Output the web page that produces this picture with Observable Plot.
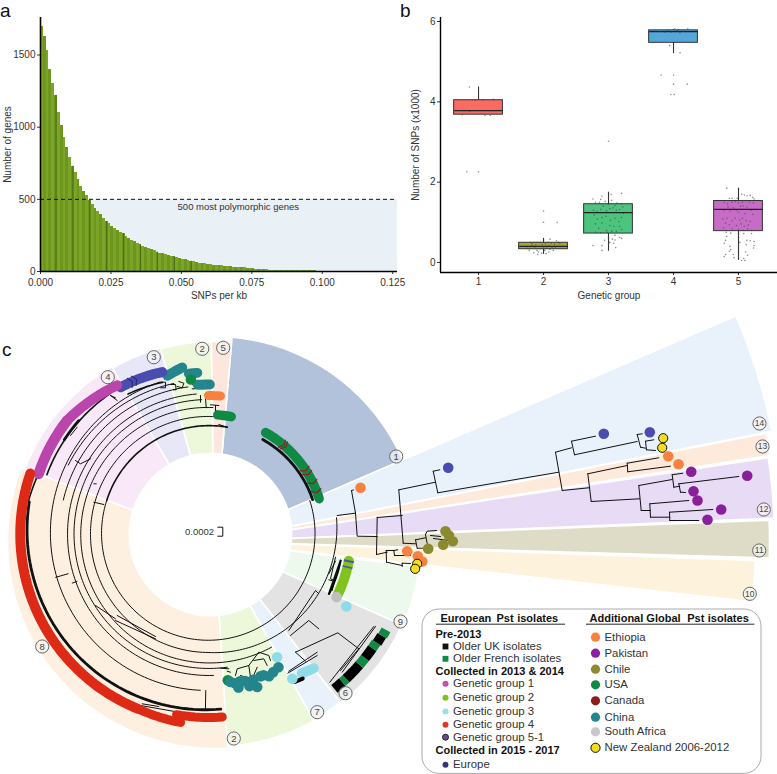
<!DOCTYPE html>
<html><head><meta charset="utf-8">
<script src="https://cdn.jsdelivr.net/npm/d3@7"></script>
<script src="https://cdn.jsdelivr.net/npm/@observablehq/plot@0.6"></script>
<style>
html,body{margin:0;padding:0;background:#fff}
#page{position:relative;width:777px;height:774px;overflow:hidden;font-family:"Liberation Sans",Arial,sans-serif}
#a,#b,#c{position:absolute}
#a{left:0;top:0}#b{left:400px;top:0}#c{left:0;top:300px}
svg{display:block;background:transparent!important;overflow:visible!important}
.tag{position:absolute;font-size:19px;line-height:22px;color:#111}
</style></head><body>
<div id="page">
<div id="a"></div><div id="b"></div><div id="c"></div>
<div class="tag" style="left:0;top:0">a</div>
<div class="tag" style="left:400px;top:0">b</div>
<div class="tag" style="left:2px;top:339px">c</div>
</div>
<script>
/* ---------- panel a ---------- */
const binWidth = 0.001;
const geneCounts = [1700,1630,1530,1400,1300,1220,1100,1010,930,860,790,730,685,635,590,555,525,495,465,440,415,395,365,345,330,312,298,285,272,260,245,230,218,205,195,185,175,165,158,150,143,135,128,122,116,110,106,102,98,93,86,80,75,71,67,63,58,54,52,49,47,45,43,41,39,37,35,33,31,29,28,26,25,23,21,19,17,15,13,12,11,10,10,9,9,9,8,8,8,7,7,6,6,5,5,4,4,4,3,3,3,3,2,2,2,2,2,2,1,1,1,1,1,1,1,1,1,1,1,1,1,1,1,1,1,1];
const darkBins = [5,11,17,23,29,35,41,47,53];
const xTicksA = [0,0.025,0.05,0.075,0.1,0.125];
const yTicksA = [0,500,1000,1500];
const font = "Liberation Sans";
const bars = geneCounts.map((v,i)=>({x1:i*binWidth,x2:(i+1)*binWidth,v,fill:i%2?"#6d971c":"#7ba428"}));
const darkLines = darkBins.map(i=>({x:(i+0.5)*binWidth,v:geneCounts[i]}));
const maxX = 0.1267;

document.getElementById("a").append(Plot.plot({
  width:400,height:300,marginLeft:40,marginRight:3,marginTop:17,marginBottom:29,
  style:{fontFamily:font,fontSize:"10px",color:"#333",background:"transparent",overflow:"visible"},
  x:{domain:[0,maxX]},
  y:{domain:[0,1760]},
  marks:[
    Plot.rect([{x1:0,x2:maxX,y1:0,y2:500}],{x1:"x1",x2:"x2",y1:"y1",y2:"y2",fill:"#e9f0f6"}),
    Plot.rectY(bars,{x1:"x1",x2:"x2",y:"v",fill:"fill",shapeRendering:"crispEdges"}),
    Plot.ruleX(darkLines,{x:"x",y1:0,y2:"v",stroke:"#35500f",strokeWidth:0.8,strokeOpacity:0.8}),
    Plot.ruleY([500],{stroke:"#111",strokeDasharray:"4,3",strokeWidth:1}),
    Plot.text(["500 most polymorphic genes"],{x:0.0702,y:444,text:d=>d,fill:"#333",fontSize:9.5}),
    Plot.axisX({ticks:xTicksA,tickFormat:d3.format(".3f"),tickSize:3,tickPadding:4,fontSize:10,label:"SNPs per kb",labelAnchor:"center",labelArrow:"none",labelOffset:27}),
    Plot.axisY({ticks:yTicksA,tickFormat:d3.format("d"),tickSize:3,tickPadding:2,fontSize:10,label:"Number of genes",labelAnchor:"center",labelArrow:"none",labelOffset:37}),
    Plot.ruleX([0],{stroke:"#000",strokeWidth:1.6}),
    Plot.ruleY([0],{stroke:"#000",strokeWidth:1.6})
  ]
}));

/* ---------- panel b ---------- */
const groups = [1,2,3,4,5];
const q1s = [3.68,0.33,0.72,5.47,0.78];
const medians = [3.78,0.40,1.24,5.75,1.32];
const q3s = [4.04,0.49,1.45,5.78,1.53];
const whiskerLo = [3.68,0.2,0.28,5.2,0.05];
const whiskerHi = [4.37,0.6,1.75,5.8,1.85];
const boxColors = ["#fb6a63","#a8a63b","#4dc47e","#54a7da","#c76cc6"];
const boxHalfWidth = 0.375;
const jitter1 = [[-.14,4.37],[-.05,4.04],[.07,4.04],[.23,4.06],[-.23,3.78],[-.13,3.76],[.15,3.78],[-.25,3.68],[.1,3.66],[.18,3.66],[-.18,2.26],[0,2.26]];
const jitter2 = [[0,1.28],[0,1.0],[.21,1.0],[-.2,.5],[-.18,.47],[-.17,.42],[-.15,.5],[-.13,.36],[-.12,.44],[-.1,.5],[-.1,.3],[-.08,.26],[-.07,.4],[-.05,.5],[-.05,.34],[-.03,.23],[-.02,.44],[0,.38],[0,.56],[.02,.3],[.03,.46],[.05,.36],[.07,.5],[.08,.26],[.09,.42],[.1,.33],[.12,.48],[.13,.38],[.1,.58],[.15,.3],[.17,.45],[.18,.38],[.2,.54],[.23,.5],[.25,.47],[-.22,.3],[-.25,.35],[-.15,.24],[-.09,.2],[.04,.22]];
const jitter3 = [[0,3.02],[.2,1.72],[.04,1.7],[-.1,1.65],[-.24,1.58],[-.2,1.5],[-.14,1.5],[-.12,1.57],[-.05,1.52],[0,1.45],[.05,1.55],[.1,1.42],[.13,1.48],[.2,1.47],[.22,1.38],[-.23,1.3],[-.18,1.26],[-.12,1.32],[-.08,1.4],[-.03,1.28],[.02,1.34],[.07,1.36],[.12,1.3],[.17,1.32],[.23,1.22],[-.22,1.18],[-.17,1.08],[-.1,1.12],[-.04,1.15],[.03,1.05],[.1,1.1],[.16,1.02],[.2,1.12],[-.2,.96],[-.1,.98],[.02,.92],[.08,.9],[.17,.9],[-.15,.85],[-.03,.8],[.05,.78],[.12,.78],[.2,.82],[-.2,.75],[-.12,.74],[-.02,.75],[.1,.68],[.17,.62],[.2,.6],[.06,.58],[.02,.5],[-.06,.55],[.08,.48],[-.1,.42],[-.24,.42],[-.1,.3],[.11,.37],[0,.6],[.1,.56]];
const jitter4 = [[-.08,5.79],[-.2,5.75],[-.13,5.73],[-.03,5.73],[.02,5.82],[.05,5.78],[.08,5.8],[.1,5.72],[.15,5.76],[.22,5.82],[-.06,5.4],[.1,5.22],[-.19,4.67],[0,4.67],[0,4.44],[.21,4.44],[-.04,4.18],[.01,4.18]];
const jitter5 = [[-.18,1.85],[.0,1.83],[-.14,1.6],[-.1,1.6],[-.02,1.6],[.05,1.7],[.09,1.68],[.13,1.66],[.18,1.67],[.22,1.62],[.24,1.58],[-.22,1.5],[-.17,1.46],[-.1,1.5],[-.05,1.52],[0,1.48],[.06,1.5],[.11,1.54],[.17,1.5],[.23,1.48],[-.16,1.38],[-.08,1.36],[-.03,1.3],[.03,1.4],[.07,1.41],[.13,1.38],[.19,1.3],[-.22,1.3],[-.13,1.28],[.0,1.25],[.1,1.22],[.22,1.2],[-.24,1.08],[-.18,1.1],[-.1,1.04],[-.05,1.1],[.02,1.05],[.06,1.1],[.12,1.04],[.18,1.02],[-.2,.98],[-.14,.94],[-.03,.92],[.04,.96],[.09,.9],[.15,.93],[-.23,.86],[-.1,.84],[.0,.82],[.07,.8],[.14,.84],[.2,.8],[-.19,.75],[-.12,.73],[.0,.7],[.08,.72],[.2,.72],[-.18,.65],[-.2,.55],[.0,.62],[.13,.55],[.18,.54],[.24,.52],[.02,.5],[-.22,.48],[.24,.42],[.12,.44],[.23,.36],[-.13,.4],[-.12,.32],[-.14,.28],[-.2,.2],[.0,.26],[.11,.26],[.14,.18],[-.22,.15],[-.08,.2],[-.07,.12],[.08,.1],[.1,.05],[.05,.05]];
const jitterAll = [jitter1,jitter2,jitter3,jitter4,jitter5].flatMap((pts,i)=>pts.map(([dx,y])=>({x:groups[i]+dx,y})));
const boxes = groups.map((g,i)=>({g,q1:q1s[i],m:medians[i],q3:q3s[i],lo:whiskerLo[i],hi:whiskerHi[i],c:boxColors[i]}));

document.getElementById("b").append(Plot.plot({
  width:377,height:300,marginLeft:40,marginRight:0,marginTop:17,marginBottom:28,
  style:{fontFamily:font,fontSize:"10px",color:"#333",background:"transparent",overflow:"visible"},
  x:{domain:[0.415,5.6]},
  y:{domain:[-0.25,6.1]},
  marks:[
    Plot.ruleX(boxes,{x:"g",y1:"lo",y2:"hi",stroke:"#333",strokeWidth:1.1}),
    Plot.rect(boxes,{x1:d=>d.g-boxHalfWidth,x2:d=>d.g+boxHalfWidth,y1:"q1",y2:"q3",fill:"c",stroke:"#333",strokeWidth:1}),
    Plot.link(boxes,{x1:d=>d.g-boxHalfWidth,x2:d=>d.g+boxHalfWidth,y1:"m",y2:"m",stroke:"#222",strokeWidth:1.2}),
    Plot.dot(jitterAll,{x:"x",y:"y",r:0.8,fill:"#444",fillOpacity:0.6}),
    Plot.axisX({ticks:groups,tickFormat:d3.format("d"),tickSize:3,tickPadding:2,fontSize:10,label:"Genetic group",labelAnchor:"center",labelArrow:"none",labelOffset:26}),
    Plot.axisY({ticks:[0,2,4,6],tickFormat:d3.format("d"),tickSize:3,tickPadding:2,fontSize:10,label:"Number of SNPs (x1000)",labelAnchor:"center",labelArrow:"none",labelOffset:29}),
    Plot.ruleX([0.415],{stroke:"#000",strokeWidth:1.4}),
    Plot.ruleY([-0.25],{stroke:"#000",strokeWidth:1.4})
  ]
}));

/* ---------- panel c ---------- */
const treeCentre = [208,533];
const wedgeCentre = [214,541];
const holeRadius = 82;
const polar = (c,a,r)=>{const t=a*Math.PI/180;return [c[0]+r*Math.sin(t),c[1]-r*Math.cos(t)];};

/* start angle, end angle, outer radius, fill */
const wedgeList = [
  [4.9,66.6,205,"#b2c2da"],[66.6,78.8,568,"#e9f2fb"],[78.9,81.2,562,"#fdeadb"],[81.4,87.6,560,"#e7dbf6"],
  [87.8,91.7,555,"#dedcc6"],[92,96.4,541,"#fdf3dc"],[97,114,206,"#edf9ed"],[114,142,205,"#e3e3e3"],
  [142,151,204,"#e9f2fb"],[151,176.4,205,"#edf8db"],[176.4,291,207,"#fef0e0"],[291,329.6,203,"#f9e9f8"],
  [329.6,344.4,201,"#e7e7f8"],[344.4,359.1,200,"#edf8db"],[359.1,364.9,200,"#fde6de"]
];
/* a0,a1,r0,r1,width */
const branchArcs = [
  [30,72,108.5,109.5,3.2],[72,288,106.5,107,1.1],[288,370,107,108,1.8],
  [83,180,129,119,1.1],[180,363.4,119,117,1.1],[151,362,130,126,1.1],
  [172,357,135,134,1.1],[178,355,142,140,1.1],[183,342,157,159,1.1],
  [176,280,176,182,2.6],[280,290,183,180,1.2],[290,325,172,171,1.3],[303,311,172,172,2.8],
  [330,343,161,158,1.6],[283,352,149,148,1.1],[296,347,156,154,1.1]
];
/* angle, r0, r1 */
const branchRadials = [[181,157,176],[254,146,159],[250,140,145]];
/* connecting branches, in page pixels */
const branchPaths = [
  [[95,605],[115,618.3]],[[115,620],[155,638.3]],[[116.7,615],[155,636]],[[141.7,703.3],[158.3,706]],[[140,705],[178.3,711.7]],
  [[70,435],[76.7,426.7]],[[115,397.3],[110,395]],[[116.7,400],[110,395]],[[75,460],[80,463.3],[90,458.3]],[[93.3,483.3],[95.7,483.3]],[[93.3,501.7],[103.3,504]],
  [[159.3,381.7],[165,381.7],[165,387.3],[160,387.3]],[[170,384],[175,384],[175.7,389.3],[172.7,389.3]],[[178.3,381],[183.3,382.7],[181.7,387.3],[176.7,386]],
  [[191.7,383.3],[195,388.3],[191.7,388.3]],[[200,395],[200,401.7]],[[205,397.3],[205.7,407.3]],[[210,404.3],[218.3,405]],[[215,405],[215,414]],[[218.3,424],[226.7,426.7]],
  [[220,667.7],[228.3,668.3]],[[226.7,670.7],[230,671.7]],[[235,675],[236.7,668.3],[248.3,665],[258.3,651.7],[268.3,655],[270,660]],[[248.3,665],[250,676.7]],
  [[253.3,660],[263.3,658.3],[266.7,665]],[[256.7,666.7],[251.7,678.3]],[[240,675],[245,676.7]],
  [[288.3,630],[315,590],[318.3,593.3]],[[290,635],[308.3,620],[318.3,628.3]],[[295,651.7],[337.3,632.3],[358.3,648.3]],[[295,651.7],[305,660.7]],
  [[288.3,670.7],[316.7,651.7]],[[287.3,672.7],[316.7,655]],[[340,670],[358.3,648.3]],[[341.7,671.7],[375,626]],[[329.3,681.7],[373.3,626]],
  [[328.3,573.3],[335,560.7]],[[331.7,590],[335,576.7]],[[328.3,579.3],[333.3,580.7]],[[335,556.7],[330,578.3],[334,580]],
  /* long branches */
  [[336.7,515],[355,512.7]],[[351,490],[355,512.7]],[[351,490],[353,489.5]],[[355,512.7],[356.7,535.7],[376.7,536]],[[376.7,516.7],[376,554]],[[376.7,517],[401.7,515]],
  [[398.3,489.3],[402.7,542.7]],[[398.3,489.3],[435,481.7]],[[432.7,470.7],[437.3,492.3]],[[432.7,470.7],[439.3,469.3]],[[437.3,492.3],[470,486.7],[558.3,471.7]],
  [[555,451.7],[561.7,490]],[[555,451.7],[571,447.3]],[[571,440.7],[574,454.3]],[[571,440.7],[595,435.7]],[[574,454.3],[636.7,441]],[[636.7,434],[640,446.7]],[[636.7,434],[641.7,433.3]],
  [[640,446.7],[645,447.7]],[[645,440.7],[646,449.3]],[[645,440.7],[653.3,439.3]],[[646,449.3],[655,450]],
  [[561.7,490],[588.3,487.3]],[[587.3,473.3],[590.7,501]],[[587.3,473.3],[626.7,465]],[[626.7,462.7],[627.3,471.3]],[[626.7,462.7],[658.3,457.3]],[[627.3,471.3],[670,465.7]],
  [[590.7,501],[639,498.3]],[[638.3,485],[640.7,510]],[[638.3,485],[671.7,479]],[[671.7,474.3],[673.3,486.7]],[[671.7,474.3],[682.3,472.7]],[[673.3,486.7],[679.3,485.7]],
  [[678.3,483.3],[680,491.7]],[[678.3,483.3],[738.3,476]],[[680,491.7],[685,492]],[[640.7,510],[650,510]],[[649.3,503.3],[650,516.7]],[[649.3,503.3],[688.3,500]],[[650,516.7],[669.3,516.7]],
  [[669,511.7],[669.3,520]],[[669,511.7],[712.3,509]],[[669.3,520],[698.3,520]],
  [[376,554],[386.7,551.7]],[[385.7,550],[386,561.7]],[[385.7,550],[393.3,550]],[[393.3,550],[394,555]],[[393.3,550],[397.3,549.3]],[[394,555],[410,555]],[[386,561.7],[401.7,565]],[[401.7,562.7],[401.7,566]],[[401.7,562.7],[410,563]],
  [[402.7,542.7],[415,543.3]],[[415,539.3],[416.7,547.7]],[[415,539.3],[425,537.3]],[[425,534],[426.7,543]],[[425,534],[426.7,530.7],[436,530]],[[430,535],[440,536]],[[433,538],[448.3,540]],[[416.7,547.7],[423,547.7]],
  [[217.3,526.7],[222.3,526.7],[222.3,535.7],[217.3,535.7]]
];
const thickBranch = [[[328.3,593.3],[340,560]]];

/* a0,a1,r0,r1,width,colour: tip groups drawn as heavy round-ended arcs */
const tipArcs = [
  [29.5,72.5,116,116,9.5,"#0f8a45"],[4.5,11,119,119,9.5,"#0f8a45"],[0,5,138,138,9,"#f9813f"],
  [356,360.5,149,149,10,"#24868c"],[353,356,161,161,10,"#24868c"],[345.4,351,163,168,10,"#24868c"],
  [329,344,170.7,168,10,"#4a4cb0"],[289.4,308.7,180,181,10.5,"#b945ad"],[308.7,328.4,181,174,10,"#b945ad"],
  [202,288.6,189,188,10,"#dd2a16"],[188.4,202,191,189,9,"#dd2a16"],[175.7,190,184,184,9,"#dd2a16"],
  [101,115.7,143,143,10,"#7fc31c"],[142,146.3,171,168,10,"#8fdce8"],
  [147,150,173,171.5,4,"#000000"],[101.6,116.6,135,135,1.8,"#000000"]
];
/* the two small blue caps on group 2: a0,a1,r0,r1 */
const blueCaps = [[100.8,101.6,143,143,10,"#4a55a8"],[103.3,103.9,143,143,10,"#4a55a8"]];
/* squares of older isolates: a0,a1,r0,r1,width,colour */
const olderBlocks = [
  [138,141,200,200,10,"#000000"],[136.5,138,200,200,10,"#0f8a45"],[131,136.5,200,200,10,"#000000"],[128.5,131,200,200,10,"#0f8a45"],
  [125,128.5,200,200,10,"#000000"],[123,125,200,200,10,"#0f8a45"],[120.5,123,201,201,10,"#000000"],[118.5,120.5,202,202,10,"#0f8a45"]
];
/* angle, r, colour: single tips around the ring */
const tipDots = [
  [116.4,143,"#bfbfbf"],[117.9,156,"#8fdce8"],[151,141.5,"#8fdce8"],[150,167.7,"#8fdce8"],[172.5,148,"#0f8a45"],
  [171.6,150,"#24868c"],[170,152,"#24868c"],[168,151,"#24868c"],[169,157,"#24868c"],[166,152,"#24868c"],[165,158,"#24868c"],[162.4,161,"#24868c"],[163,153,"#24868c"],[160,152,"#24868c"],[158.8,152,"#24868c"],[157,155,"#24868c"],[155,153,"#24868c"],[152.4,151,"#24868c"],
  [353.5,155,"#0f8a45"]
];
/* tip dots on the long branches, page pixels */
const farDots = [
  [360,487.3,"#f9813f"],[447.7,467.3,"#4a4cb0"],[603.3,433.3,"#4a4cb0"],[649.3,431.7,"#4a4cb0"],
  [667.7,455.7,"#f9813f"],[678,463.7,"#f9813f"],[690.7,471.3,"#8a1f9a"],[746.7,475.3,"#8a1f9a"],[693,490.7,"#8a1f9a"],[697,500,"#8a1f9a"],[720.7,509,"#8a1f9a"],[707,519.3,"#8a1f9a"],
  [406.7,550.7,"#f9813f"],[417.3,555.7,"#f9813f"],[421.7,561,"#f9813f"],
  [445,530.7,"#8c8a2e"],[448.5,535,"#8c8a2e"],[452.3,540.7,"#8c8a2e"],[442.7,544.3,"#8c8a2e"],[427.7,548.3,"#8c8a2e"]
];
const yellowDots = [[662.7,437.7],[661.7,447.3],[416.7,563.3],[414.7,568.3]];
const canadaAngles = [40.5,41.8,57.2,59.5,64.5,69.3];
const ggFiveAngles = [332.4,334];
const sectorLabels = [["1",395.7,456],["5",222.7,347.3],["2",201.7,348.3],["3",153.3,356.7],["4",107.3,376.7],["8",41.7,646],["2",233.3,738],["7",316.7,711.7],["6",345,692.7],["9",400,621],["10",749.3,593.3],["11",758.7,550],["12",763.3,509],["13",762,446],["14",759,423]];

/* legend */
const legendBold = [["Pre-2013",435,634],["Collected in 2013 & 2014",435,671],["Collected in 2015 - 2017",435,750]];
const legendLeft = [["Older UK isolates",646,"#111111","square"],["Older French isolates",658.3,"#0f8a45","square"],["Genetic group 1",683.3,"#c24fb3","circle"],["Genetic group 2",697.3,"#7fc31c","circle"],["Genetic group 3",711,"#9adfe8","circle"],["Genetic group 4",724.3,"#dd3a22","circle"],["Genetic group 5-1",736.7,"#6a4a8f","circle"],["Europe",764.3,"#33307d","circle"]];
const legendRight = [["Ethiopia",636.7,"#f9813f"],["Pakistan",652.7,"#8a1f9a"],["Chile",668.7,"#8c8a2e"],["USA",684.3,"#0f8a45"],["Canada",700.3,"#8b1c1c"],["China",716.7,"#24868c"],["South Africa",731.3,"#c9c7c9"],["New Zealand 2006-2012",747.3,"#f2dd1e"]];
const legendHeads = [["European",440,"normal"],["Pst",496,"italic"],["isolates",516.7,"normal"],["Additional Global",589,"normal"],["Pst",686.7,"italic"],["isolates",707.3,"normal"]];

const arcPoints = (list,centre,step=1.5)=>list.flatMap((d,id)=>{
  const [a0,a1,r0,r1]=d, n=Math.max(2,Math.ceil(Math.abs(a1-a0)/step));
  return d3.range(n+1).map(i=>{const t=i/n,[x,y]=polar(centre,a0+(a1-a0)*t,r0+(r1-r0)*t);return {x,y,id,w:d[4],c:d[5]};});
});
const wedgePoints = wedgeList.flatMap((w,id)=>{
  const [a0,a1,r,fill]=w, n=Math.ceil((a1-a0)/1.5);
  const pts=[[...wedgeCentre]];
  d3.range(n+1).forEach(i=>pts.push(polar(wedgeCentre,a0+(a1-a0)*i/n,r)));
  pts.push([...wedgeCentre]);
  return pts.map(([x,y])=>({x,y,id,fill}));
});
const pathPoints = (paths)=>paths.flatMap((p,id)=>p.map(([x,y])=>({x,y,id})));
const radialPaths = branchRadials.map(([a,r0,r1])=>[polar(treeCentre,a,r0),polar(treeCentre,a,r1)]);
const canadaPaths = canadaAngles.map(a=>[polar(treeCentre,a-1.5,111),polar(treeCentre,a,116),polar(treeCentre,a-1,121)]);
const ggFivePaths = ggFiveAngles.map(a=>[polar(treeCentre,a,165),polar(treeCentre,a+1,170),polar(treeCentre,a,175)]);
const tipPts = tipDots.map(([a,r,c])=>{const [x,y]=polar(treeCentre,a,r);return {x,y,c};});

const lineOf = (pts,o)=>Plot.line(pts,{x:"x",y:"y",z:"id",curve:"linear",...o});
const thin = arcPoints(branchArcs.filter(d=>d[4]<=1.1),treeCentre);
const mid = arcPoints(branchArcs.filter(d=>d[4]>1.1&&d[4]<2),treeCentre);
const heavy = arcPoints(branchArcs.filter(d=>d[4]>=2),treeCentre);

document.getElementById("c").append(Plot.plot({
  width:777,height:474,margin:0,
  style:{fontFamily:font,background:"transparent",overflow:"visible"},
  x:{domain:[0,777],range:[0,777],axis:null},
  y:{domain:[300,774],range:[0,474],axis:null},
  marks:[
    lineOf(wedgePoints,{fill:"fill",stroke:"#fff",strokeWidth:1.6}),
    Plot.dot([[210,534]],{x:d=>d[0],y:d=>d[1],r:holeRadius,fill:"#fff"}),
    lineOf(thin,{stroke:"#111",strokeWidth:1}),
    lineOf(mid,{stroke:"#111",strokeWidth:1.6}),
    lineOf(heavy,{stroke:"#111",strokeWidth:2.8}),
    lineOf(pathPoints([...branchPaths,...radialPaths]),{stroke:"#111",strokeWidth:1}),
    lineOf(pathPoints(thickBranch),{stroke:"#111",strokeWidth:1.8}),
    lineOf(arcPoints(tipArcs,treeCentre),{stroke:"c",strokeWidth:"w",strokeLinecap:"round"}),
    lineOf(arcPoints(blueCaps,treeCentre),{stroke:"c",strokeWidth:"w",strokeLinecap:"butt"}),
    lineOf(arcPoints(olderBlocks,treeCentre),{stroke:"c",strokeWidth:"w",strokeLinecap:"butt"}),
    lineOf(pathPoints(canadaPaths),{stroke:"#8b2020",strokeWidth:1.2}),
    lineOf(pathPoints(ggFivePaths),{stroke:"#2a2a80",strokeWidth:1.2}),
    Plot.dot(tipPts,{x:"x",y:"y",r:5.3,fill:"c"}),
    Plot.dot(farDots,{x:d=>d[0],y:d=>d[1],r:5.3,fill:d=>d[2]}),
    Plot.dot(yellowDots,{x:d=>d[0],y:d=>d[1],r:4.6,fill:"#f2dd1e",stroke:"#111",strokeWidth:1}),
    Plot.text(["0.0002"],{x:199,y:531,text:d=>d,fontSize:9.5,fill:"#333"}),
    Plot.dot(sectorLabels,{x:d=>d[1],y:d=>d[2],r:6.6,fill:"#f4f4f4",fillOpacity:0.7,stroke:"#666",strokeWidth:1}),
    Plot.text(sectorLabels,{x:d=>d[1],y:d=>d[2],text:d=>d[0],fontSize:d=>d[0].length>1?8.5:9.5,fill:"#444"}),
    /* legend */
    Plot.rect([[422,761,609,773.4]],{x1:d=>d[0],x2:d=>d[1],y1:d=>d[2],y2:d=>d[3],rx:17,fill:"#fff",stroke:"#aaa",strokeWidth:1}),
    Plot.text(legendHeads,{x:d=>d[1],y:618,text:d=>d[0],fontStyle:d=>d[2],fontWeight:"bold",textAnchor:"start",fontSize:11,fill:"#111"}),
    Plot.ruleY([623.7],{x1:436,x2:565,stroke:"#111",strokeWidth:0.9}),
    Plot.ruleY([623.7],{x1:586,x2:754.3,stroke:"#111",strokeWidth:0.9}),
    Plot.text(legendBold,{x:d=>d[1],y:d=>d[2],text:d=>d[0],fontWeight:"bold",textAnchor:"start",fontSize:11,fill:"#111"}),
    Plot.dot(legendLeft,{x:445,y:d=>d[1],r:d=>d[3]==="square"?5.2:4.3,symbol:d=>d[3],fill:d=>d[2],stroke:d=>d[0].endsWith("5-1")?"#222":"none",strokeWidth:1}),
    Plot.text(legendLeft,{x:452.5,y:d=>d[1],text:d=>d[0],textAnchor:"start",fontSize:11.4,fill:"#333"}),
    Plot.dot(legendRight,{x:595,y:d=>d[1],r:4.6,fill:d=>d[2],stroke:d=>d[0].startsWith("New")?"#111":"none",strokeWidth:1}),
    Plot.text(legendRight,{x:604,y:d=>d[1],text:d=>d[0],textAnchor:"start",fontSize:11.4,fill:"#333"})
  ]
}));
</script>
</body></html>
